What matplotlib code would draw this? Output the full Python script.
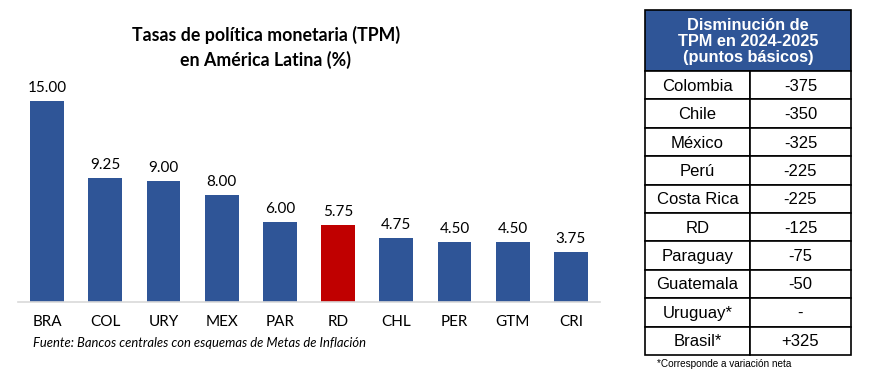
import matplotlib.pyplot as plt
from matplotlib.patches import Rectangle

# Bar chart data
countries = ["BRA", "COL", "URY", "MEX", "PAR", "RD", "CHL", "PER", "GTM", "CRI"]
rates = [15.00, 9.25, 9.00, 8.00, 6.00, 5.75, 4.75, 4.50, 4.50, 3.75]

# Table data
table_names = ["Colombia", "Chile", "México", "Perú", "Costa Rica", "RD",
               "Paraguay", "Guatemala", "Uruguay*", "Brasil*"]
table_values = ["-375", "-350", "-325", "-225", "-225", "-125",
                "-75", "-50", "-", "+325"]

BLUE = "#2F5597"
RED = "#C00000"
W, H = 869, 382

fig = plt.figure(figsize=(W / 100, H / 100), dpi=100)

# ---- bar chart ----
ax = fig.add_axes([18 / W, 1 - 302 / H, (600 - 18) / W, (302 - 85) / H])
colors = [RED if c == "RD" else BLUE for c in countries]
x = range(len(countries))
ax.bar(x, rates, width=0.58, color=colors)
ax.set_xlim(-0.5, len(countries) - 0.5)
ax.set_ylim(0, 15 * 217 / 201)
for i, v in enumerate(rates):
    ax.text(i, v + 0.45, f"{v:.2f}", ha="center", va="bottom",
            fontsize=11, family="Lato")
ax.set_xticks(list(x))
ax.set_xticklabels(countries, fontsize=11, family="Lato")
ax.tick_params(axis="x", length=0, pad=9)
ax.set_yticks([])
for s in ["top", "right", "left"]:
    ax.spines[s].set_visible(False)
ax.spines["bottom"].set_color("#D9D9D9")
ax.spines["bottom"].set_linewidth(1.2)

fig.text(266 / W, 1 - 47 / H, "Tasas de política monetaria (TPM)\nen América Latina (%)",
         ha="center", va="center", fontsize=12.8, fontweight="bold",
         family="Lato", linespacing=1.45)
fig.text(33 / W, 1 - 343 / H, "Fuente: Bancos centrales con esquemas de Metas de Inflación",
         ha="left", va="center", fontsize=9.4, style="italic", family="Lato")

# ---- table ----
tx = fig.add_axes([0, 0, 1, 1])
tx.set_xlim(0, W)
tx.set_ylim(H, 0)
tx.axis("off")

left, mid, right = 645, 750, 851
top, head_bot = 10, 71
row_h = (355 - head_bot) / len(table_names)

tx.add_patch(Rectangle((left, top), right - left, head_bot - top,
                       facecolor=BLUE, edgecolor="black", linewidth=1.2))
tx.text((left + right) / 2, (top + head_bot) / 2 + 1,
        "Disminución de\nTPM en 2024-2025\n(puntos básicos)",
        ha="center", va="center", color="white", fontsize=11.8,
        fontweight="bold", family="Liberation Sans", linespacing=1.12)

for i, (name, val) in enumerate(zip(table_names, table_values)):
    y0 = head_bot + i * row_h
    tx.add_patch(Rectangle((left, y0), mid - left, row_h,
                           facecolor="white", edgecolor="black", linewidth=1.2))
    tx.add_patch(Rectangle((mid, y0), right - mid, row_h,
                           facecolor="white", edgecolor="black", linewidth=1.2))
    tx.text((left + mid) / 2, y0 + row_h / 2 + 1, name, ha="center", va="center",
            fontsize=12, family="Liberation Sans")
    tx.text((mid + right) / 2, y0 + row_h / 2 + 1, val, ha="center", va="center",
            fontsize=12, family="Liberation Sans")

tx.text(657, 364, "*Corresponde a variación neta", ha="left", va="center",
        fontsize=7.2, family="Liberation Sans")

fig.savefig("out.png", dpi=100)
